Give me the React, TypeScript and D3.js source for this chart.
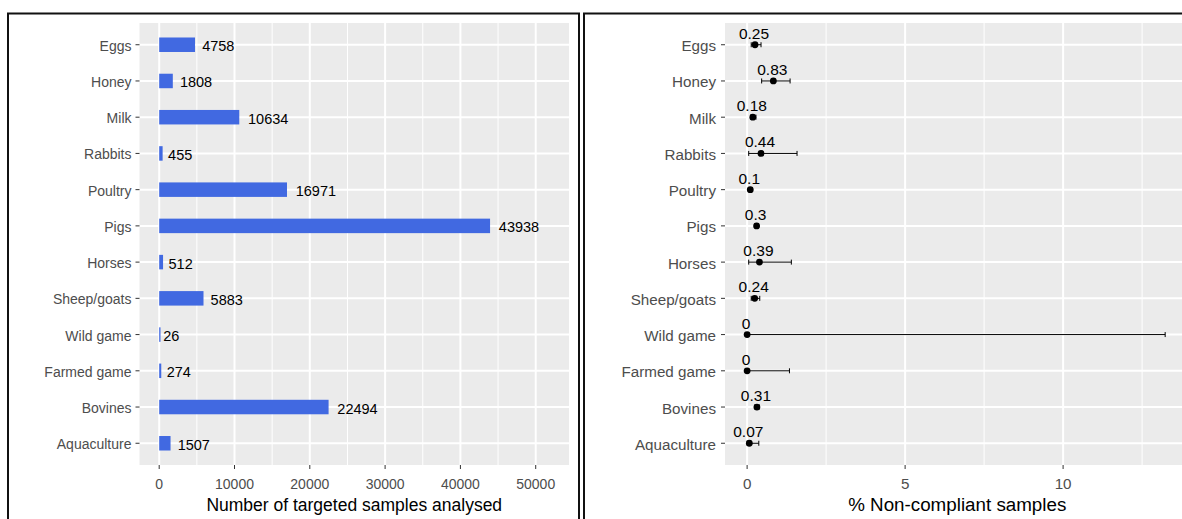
import React from "react";
import * as d3 from "d3";

const categories = ["Eggs", "Honey", "Milk", "Rabbits", "Poultry", "Pigs", "Horses", "Sheep/goats", "Wild game", "Farmed game", "Bovines", "Aquaculture"];
const samples = [4758, 1808, 10634, 455, 16971, 43938, 512, 5883, 26, 274, 22494, 1507];
const pctNonCompliant = [0.25, 0.83, 0.18, 0.44, 0.1, 0.3, 0.39, 0.24, 0, 0, 0.31, 0.07];
const ciLower = [0.13, 0.46, 0.11, 0.05, 0.06, 0.25, 0.05, 0.13, 0, 0, 0.24, 0.002];
const ciUpper = [0.44, 1.36, 0.28, 1.58, 0.16, 0.36, 1.4, 0.4, 13.23, 1.34, 0.39, 0.37];
const leftTicks = [0, 10000, 20000, 30000, 40000, 50000];
const leftMinor = [5000, 15000, 25000, 35000, 45000];
const rightTicks = [0, 5, 10];
const rightMinor = [2.5, 7.5, 12.5];

const FONT = "'Liberation Sans', Arial, sans-serif";
const GREY_BG = "#EBEBEB";
const TICK_COL = "#4D4D4D";

export default function App() {
  const top = 23, bottom = 465;
  const y = d3.scalePoint<string>().domain(categories).range([top, bottom]).padding(0.6);
  const step = y.step();

  // left panel
  const lx0 = 139.5, lx1 = 569;
  const xl = d3.scaleLinear().domain([-2616, 54420]).range([lx0, lx1]);
  // right panel
  const rx0 = 725, rx1 = 1189.5;
  const xr = d3.scaleLinear().domain([-0.7, 14.0]).range([rx0, rx1]);

  return (
    <svg width={1182} height={519} style={{ position: "absolute", left: 0, top: 0, fontFamily: FONT }}>
      <rect x={0} y={0} width={1182} height={519} fill="#fff" />
      {/* panel borders */}
      <rect x={8} y={13.5} width={571} height={520} fill="none" stroke="#111" strokeWidth={2} />
      <rect x={584} y={13.5} width={620} height={520} fill="none" stroke="#111" strokeWidth={2} />

      {/* LEFT PANEL */}
      <rect x={lx0} y={top} width={lx1 - lx0} height={bottom - top} fill={GREY_BG} />
      {leftMinor.map((t) => (
        <line key={"lm" + t} x1={xl(t)} x2={xl(t)} y1={top} y2={bottom} stroke="#fff" strokeWidth={1} />
      ))}
      {leftTicks.map((t) => (
        <line key={"lM" + t} x1={xl(t)} x2={xl(t)} y1={top} y2={bottom} stroke="#fff" strokeWidth={2} />
      ))}
      {categories.map((c) => (
        <line key={"lh" + c} x1={lx0} x2={lx1} y1={y(c)} y2={y(c)} stroke="#fff" strokeWidth={2} />
      ))}
      {categories.map((c, i) => (
        <rect key={"bar" + c} x={xl(0)} y={(y(c) as number) - step * 0.2} width={Math.max(1.3, xl(samples[i]) - xl(0))} height={step * 0.4} fill="#4169E1" />
      ))}
      {categories.map((c, i) => {
        const s = String(samples[i]);
        return (
          <text key={"bl" + c} x={xl(samples[i]) + s.length * 1.65 + 0.5} y={(y(c) as number) + 1.5} fontSize={14.5} fill="#000" dominantBaseline="central">
            {s}
          </text>
        );
      })}
      {/* left y axis */}
      {categories.map((c) => (
        <g key={"ly" + c}>
          <line x1={lx0 - 4} x2={lx0} y1={y(c)} y2={y(c)} stroke="#333" strokeWidth={1} />
          <text x={lx0 - 8} y={(y(c) as number) + 1} fontSize={14} fill={TICK_COL} textAnchor="end" dominantBaseline="central">
            {c}
          </text>
        </g>
      ))}
      {/* left x axis */}
      {leftTicks.map((t) => (
        <g key={"lx" + t}>
          <line x1={xl(t)} x2={xl(t)} y1={bottom} y2={bottom + 4} stroke="#333" strokeWidth={1} />
          <text x={xl(t)} y={489} fontSize={14} fill={TICK_COL} textAnchor="middle">
            {String(t)}
          </text>
        </g>
      ))}
      <text x={(lx0 + lx1) / 2} y={511} fontSize={17.5} fill="#000" textAnchor="middle">
        Number of targeted samples analysed
      </text>

      {/* RIGHT PANEL */}
      <rect x={rx0} y={top} width={rx1 - rx0} height={bottom - top} fill={GREY_BG} />
      {rightMinor.map((t) => (
        <line key={"rm" + t} x1={xr(t)} x2={xr(t)} y1={top} y2={bottom} stroke="#fff" strokeWidth={1} />
      ))}
      {rightTicks.map((t) => (
        <line key={"rM" + t} x1={xr(t)} x2={xr(t)} y1={top} y2={bottom} stroke="#fff" strokeWidth={2} />
      ))}
      {categories.map((c) => (
        <line key={"rh" + c} x1={rx0} x2={rx1} y1={y(c)} y2={y(c)} stroke="#fff" strokeWidth={2} />
      ))}
      {categories.map((c, i) => {
        const yy = y(c) as number;
        return (
          <g key={"pt" + c}>
            <line x1={xr(ciLower[i])} x2={xr(ciUpper[i])} y1={yy} y2={yy} stroke="#000" strokeWidth={1} />
            <line x1={xr(ciLower[i])} x2={xr(ciLower[i])} y1={yy - 2.5} y2={yy + 2.5} stroke="#000" strokeWidth={1} />
            <line x1={xr(ciUpper[i])} x2={xr(ciUpper[i])} y1={yy - 2.5} y2={yy + 2.5} stroke="#000" strokeWidth={1} />
            <circle cx={xr(pctNonCompliant[i])} cy={yy} r={3.4} fill="#000" />
            <text x={xr(pctNonCompliant[i]) - 1} y={yy - 6} fontSize={15.5} fill="#000" textAnchor="middle">
              {String(pctNonCompliant[i])}
            </text>
          </g>
        );
      })}
      {/* right y axis */}
      {categories.map((c) => (
        <g key={"ry" + c}>
          <line x1={rx0 - 4} x2={rx0} y1={y(c)} y2={y(c)} stroke="#333" strokeWidth={1} />
          <text x={rx0 - 9} y={(y(c) as number) + 1} fontSize={15.2} fill={TICK_COL} textAnchor="end" dominantBaseline="central">
            {c}
          </text>
        </g>
      ))}
      {/* right x axis */}
      {rightTicks.map((t) => (
        <g key={"rx" + t}>
          <line x1={xr(t)} x2={xr(t)} y1={bottom} y2={bottom + 4} stroke="#333" strokeWidth={1} />
          <text x={xr(t)} y={488.5} fontSize={15.2} fill={TICK_COL} textAnchor="middle">
            {String(t)}
          </text>
        </g>
      ))}
      <text x={(rx0 + rx1) / 2} y={511} fontSize={18.8} fill="#000" textAnchor="middle">
        % Non-compliant samples
      </text>
    </svg>
  );
}
